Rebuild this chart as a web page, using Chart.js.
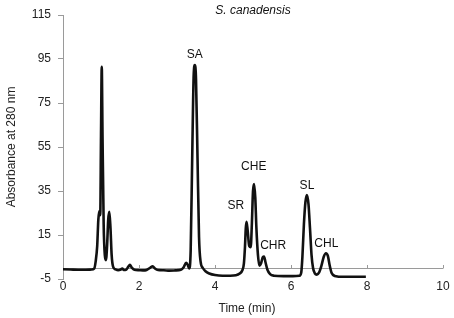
<!DOCTYPE html>
<html>
<head>
<meta charset="utf-8">
<script src="https://cdn.jsdelivr.net/npm/chart.js@4"></script>
<style>
  html, body { margin: 0; padding: 0; background: #fff; }
  #wrap { width: 454px; height: 318px; }
</style>
</head>
<body>
<div id="wrap"><canvas id="chromChart" width="454" height="318"></canvas></div>
<script>
// retention time (min) and absorbance
const timeMin = [
  0, 0.2, 0.4, 0.6, 0.75, 0.82, 0.86, 0.9, 0.93, 0.96, 0.98, 1.0, 1.02, 1.04, 1.07, 1.1,
  1.13, 1.16, 1.19, 1.22, 1.25, 1.28, 1.32, 1.38, 1.45, 1.52, 1.56, 1.6, 1.66, 1.72, 1.76,
  1.81, 1.88, 2.0, 2.1, 2.2, 2.3, 2.36, 2.42, 2.5, 2.65, 2.8, 2.95, 3.1, 3.18, 3.24, 3.28,
  3.32, 3.36, 3.4, 3.44, 3.47, 3.5, 3.54, 3.58, 3.62, 3.68, 3.75, 3.85, 4.0, 4.2, 4.4, 4.55,
  4.65, 4.72, 4.76, 4.79, 4.81, 4.83, 4.86, 4.9, 4.94, 4.97, 5.0, 5.03, 5.06, 5.09, 5.13,
  5.17, 5.21, 5.26, 5.29, 5.33, 5.38, 5.45, 5.55, 5.8, 6.05, 6.22, 6.27, 6.3, 6.34, 6.38,
  6.42, 6.46, 6.5, 6.54, 6.58, 6.63, 6.68, 6.74, 6.8, 6.86, 6.92, 6.97, 7.02, 7.07, 7.15,
  7.4, 7.7, 7.97
];
const absorbance = [
  -0.6, -0.7, -0.8, -0.8, -0.7, -0.3, 3, 10, 22, 26, 24, 60, 91.5, 60, 20, 6,
  3.6, 10, 22, 25.5, 18, 6, 0.5, -0.6, -1, -0.7, -0.2, -0.9, -0.8, 0.6, 1.4,
  0.2, -0.8, -1, -1.1, -0.9, 0.2, 0.8, -0.2, -0.9, -1, -1.2, -1.1, -0.8, 0.5, 2.4, 1.5,
  -0.2, 8, 50, 88, 92.3, 86, 50, 14, 3, 0, -1.5, -2.5, -3.2, -3.5, -3.5, -3.3,
  -2.5, -1, 2, 10, 18, 21, 17, 10, 9.5, 20, 35, 38.2, 32, 18, 6,
  1, 2, 5, 5.2, 2.5, -0.8, -2.8, -3.5, -3.7, -3.7, -3.5, -2, 5, 20, 30,
  33.2, 29, 18, 6, 0, -2.5, -3, -2, 1, 5, 6.7, 5.5, 1, -2.3, -3.6,
  -4, -4, -4
];

// peak labels and where they sit (data units)
const peakNames = ['SA', 'SR', 'CHE', 'CHR', 'SL', 'CHL'];
const peakLabelX = [3.47, 4.55, 5.02, 5.53, 6.42, 6.93];
const peakLabelY = [97, 28.2, 46, 10, 37.5, 11.2];

const yTicks = [-5, 15, 35, 55, 75, 95, 115];
const xTicks = [0, 2, 4, 6, 8, 10];

const FONT = '"Liberation Sans", Arial, sans-serif';
const AXIS_GREY = '#9a9a9a';

// zero line with little tick marks, titles and peak names
const annotatePlugin = {
  id: 'annotate',
  beforeDatasetsDraw(chart) {
    const ctx = chart.ctx;
    const xs = chart.scales.x, ys = chart.scales.y;
    const y0 = ys.getPixelForValue(0);
    ctx.save();
    ctx.strokeStyle = AXIS_GREY;
    ctx.lineWidth = 1;
    ctx.beginPath();
    ctx.moveTo(xs.left, Math.round(y0) + 0.5);
    ctx.lineTo(xs.right, Math.round(y0) + 0.5);
    xTicks.forEach(t => {
      const px = Math.round(xs.getPixelForValue(t)) + 0.5;
      ctx.moveTo(px, Math.round(y0) + 0.5);
      ctx.lineTo(px, Math.round(y0) - 3);
    });
    ctx.stroke();
    ctx.restore();
  },
  afterDatasetsDraw(chart) {
    const ctx = chart.ctx;
    const xs = chart.scales.x, ys = chart.scales.y;
    ctx.save();
    ctx.fillStyle = '#111';
    ctx.textAlign = 'center';
    ctx.textBaseline = 'middle';
    ctx.font = '12px ' + FONT;
    peakNames.forEach((name, i) => {
      ctx.fillText(name, xs.getPixelForValue(peakLabelX[i]), ys.getPixelForValue(peakLabelY[i]));
    });
    // x title sits a little left of centre in the original
    ctx.fillStyle = '#222';
    ctx.fillText('Time (min)', (xs.left + xs.right) / 2 - 6, 309);
    ctx.fillStyle = '#111';
    ctx.font = 'italic 12px ' + FONT;
    ctx.fillText('S. canadensis', (xs.left + xs.right) / 2, 11);
    ctx.restore();
  }
};

document.addEventListener('DOMContentLoaded', function () {
  const points = timeMin.map((t, i) => ({ x: t, y: absorbance[i] }));
  const ctx = document.getElementById('chromChart').getContext('2d');
  new Chart(ctx, {
    type: 'line',
    data: {
      datasets: [{
        data: points,
        borderColor: '#111',
        borderWidth: 2.6,
        pointRadius: 0,
        cubicInterpolationMode: 'monotone',
        fill: false
      }]
    },
    options: {
      responsive: false,
      animation: false,
      layout: { padding: { top: 15, right: 11, left: 0, bottom: 0 } },
      plugins: {
        legend: { display: false },
        tooltip: { enabled: false }
      },
      scales: {
        x: {
          type: 'linear',
          min: 0,
          max: 10,
          afterBuildTicks: s => { s.ticks = xTicks.map(v => ({ value: v })); },
          afterFit: s => { s.height = 39; },
          grid: { display: false, drawTicks: false, tickLength: 0 },
          border: { display: false },
          ticks: { color: '#222', font: { family: FONT, size: 12 }, padding: 0 },
          title: { display: false }
        },
        y: {
          min: -5,
          max: 115,
          afterBuildTicks: s => { s.ticks = yTicks.map(v => ({ value: v })); },
          afterFit: s => { s.width = 63; },
          grid: { drawOnChartArea: false, tickLength: 5, color: AXIS_GREY },
          border: { color: AXIS_GREY },
          ticks: { color: '#222', font: { family: FONT, size: 12 }, padding: 7 },
          title: {
            display: true,
            text: 'Absorbance at 280 nm',
            color: '#222',
            font: { family: FONT, size: 12 },
            padding: { top: 4, bottom: 2 }
          }
        }
      }
    },
    plugins: [annotatePlugin]
  });
});
</script>
</body>
</html>
